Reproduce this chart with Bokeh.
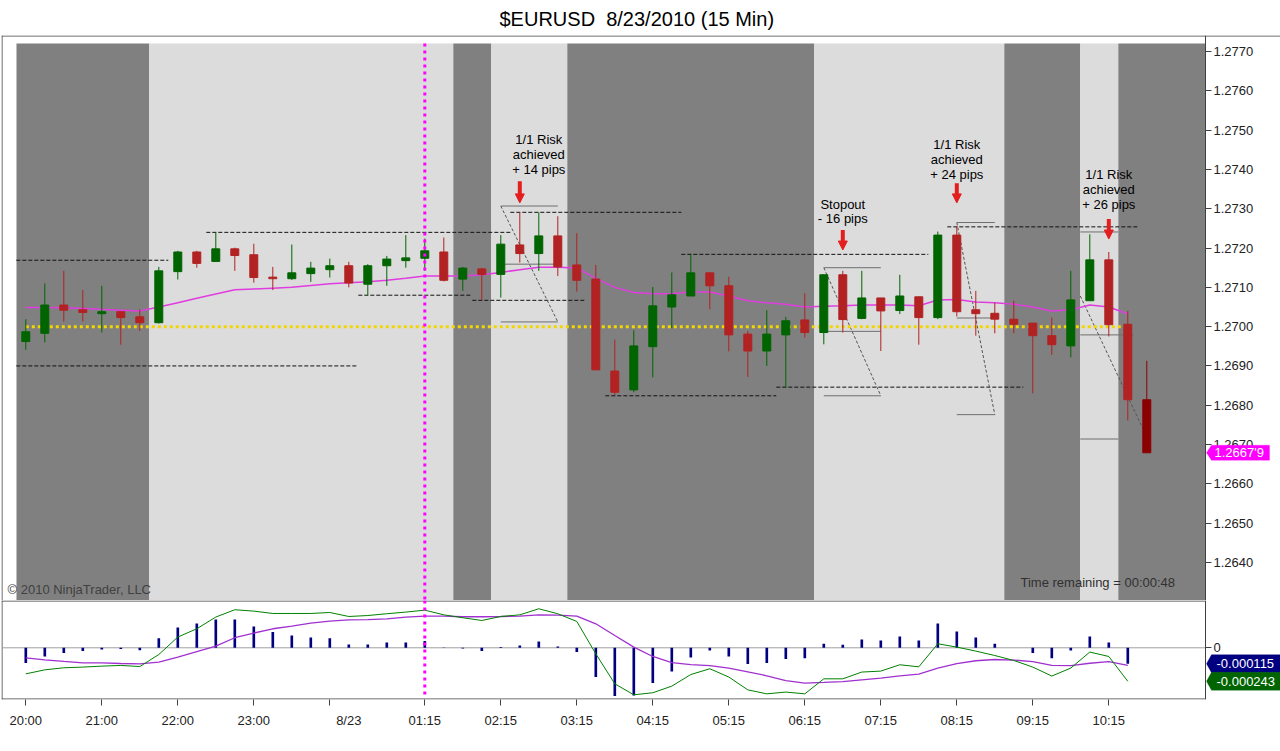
from bokeh.plotting import figure
from bokeh.layouts import column
from bokeh.models import (FixedTicker, PrintfTickFormatter, Label, Arrow,
                          NormalHead, PolyAnnotation)
from bokeh.embed import file_html
from bokeh.resources import INLINE
from bokeh.core.properties import value

FONT = "Liberation Sans"

# ---------------- data ----------------
tick_index = [0, 4, 8, 12, 16, 21, 25, 29, 33, 37, 41, 45, 49, 53, 57]
label_index = [0, 4, 8, 12, 17, 21, 25, 29, 33, 37, 41, 45, 49, 53, 57]
tick_labels = ["20:00", "21:00", "22:00", "23:00", "8/23", "01:15", "02:15", "03:15",
               "04:15", "05:15", "06:15", "07:15", "08:15", "09:15", "10:15"]

opens = [1.26962, 1.26983, 1.27055, 1.27043, 1.27033, 1.27038, 1.27025, 1.27010, 1.27140, 1.27190,
         1.27166, 1.27198, 1.27183, 1.27126, 1.27122, 1.27135, 1.27145, 1.27155, 1.27108, 1.27155,
         1.27168, 1.27174, 1.27190, 1.27121, 1.27147, 1.27133, 1.27208, 1.27186, 1.27231, 1.27157,
         1.27121, 1.26887, 1.26839, 1.26949, 1.27050, 1.27078, 1.27137, 1.27104, 1.26981, 1.26938,
         1.26979, 1.27017, 1.26985, 1.27132, 1.27021, 1.27073, 1.27041, 1.27076, 1.27023, 1.27233,
         1.27043, 1.27034, 1.27019, 1.27009, 1.26977, 1.26951, 1.27066, 1.27170, 1.27006, 1.26814]
highs = [1.27019, 1.27110, 1.27142, 1.27093, 1.27104, 1.27038, 1.27044, 1.27152, 1.27193, 1.27193,
         1.27240, 1.27201, 1.27211, 1.27152, 1.27209, 1.27165, 1.27173, 1.27165, 1.27159, 1.27180,
         1.27233, 1.27224, 1.27227, 1.27152, 1.27149, 1.27233, 1.27291, 1.27291, 1.27281, 1.27238,
         1.27157, 1.26967, 1.26991, 1.27101, 1.27138, 1.27186, 1.27137, 1.27127, 1.26989, 1.27042,
         1.27025, 1.27085, 1.27133, 1.27142, 1.27142, 1.27073, 1.27132, 1.27076, 1.27242, 1.27256,
         1.27091, 1.27061, 1.27066, 1.27009, 1.27023, 1.27142, 1.27235, 1.27190, 1.27040, 1.26913]
lows = [1.26941, 1.26960, 1.27013, 1.27013, 1.26985, 1.26954, 1.26989, 1.27008, 1.27120, 1.27150,
        1.27166, 1.27142, 1.27112, 1.27093, 1.27119, 1.27114, 1.27125, 1.27100, 1.27080, 1.27104,
        1.27150, 1.27142, 1.27115, 1.27091, 1.27067, 1.27074, 1.27163, 1.27142, 1.27129, 1.27089,
        1.26890, 1.26826, 1.26833, 1.26871, 1.26996, 1.27078, 1.27044, 1.26937, 1.26872, 1.26900,
        1.26845, 1.26972, 1.26955, 1.26985, 1.27019, 1.26938, 1.27032, 1.26954, 1.27019, 1.27026,
        1.26977, 1.26983, 1.26983, 1.26830, 1.26928, 1.26922, 1.27066, 1.26975, 1.26761, 1.26679]
closes = [1.26987, 1.27055, 1.27042, 1.27036, 1.27038, 1.27023, 1.27010, 1.27142, 1.27190, 1.27161,
          1.27198, 1.27181, 1.27125, 1.27122, 1.27137, 1.27149, 1.27155, 1.27111, 1.27155, 1.27172,
          1.27175, 1.27193, 1.27118, 1.27149, 1.27133, 1.27210, 1.27186, 1.27231, 1.27152, 1.27118,
          1.26890, 1.26833, 1.26951, 1.27053, 1.27081, 1.27137, 1.27104, 1.26979, 1.26938, 1.26981,
          1.27015, 1.26985, 1.27132, 1.27018, 1.27073, 1.27040, 1.27078, 1.27023, 1.27233, 1.27038,
          1.27033, 1.27019, 1.27006, 1.26977, 1.26954, 1.27068, 1.27170, 1.27005, 1.26814, 1.26679]

moving_avg = [1.27049, 1.27049, 1.27048, 1.27046, 1.27044, 1.27042, 1.27040, 1.27050, 1.27061, 1.27072,
              1.27083, 1.27094, 1.27096, 1.27098, 1.27100, 1.27105, 1.27109, 1.27112, 1.27114, 1.27118,
              1.27123, 1.27129, 1.27129, 1.27129, 1.27132, 1.27138, 1.27145, 1.27151, 1.27151, 1.27149,
              1.27123, 1.27100, 1.27087, 1.27084, 1.27084, 1.27088, 1.27088, 1.27078, 1.27066, 1.27061,
              1.27057, 1.27050, 1.27052, 1.27053, 1.27055, 1.27055, 1.27055, 1.27053, 1.27068, 1.27069,
              1.27063, 1.27061, 1.27057, 1.27050, 1.27040, 1.27043, 1.27055, 1.27050, 1.27032]

last_price_text = "1.2667'9"
pivot_level = 1.2700
pivot_bars = [0, 58]

session_edges = [-0.49, 6.5, 22.5, 24.5, 28.5, 41.5, 51.5, 55.5, 57.5, 62.09]
session_dark = [True, False, True, False, True, False, True, False, True]

level_price = [1.27169, 1.26900, 1.27240, 1.27080, 1.27291, 1.27067, 1.27184, 1.26824, 1.26846, 1.27254]
level_start = [-0.5, -0.5, 9.5, 17.5, 25.5, 23.5, 34.5, 30.5, 39.5, 48.5]
level_end = [7.5, 17.5, 25.5, 23.5, 34.5, 29.5, 47.5, 39.5, 52.5, 58.5]

rr_start = [25.0, 42.0, 49.0, 55.5]
rr_end = [28.0, 45.0, 51.0, 57.5]
rr_mid_end = [28.2, 45.0, 51.0, 58.3]
rr_top = [1.27307, 1.27150, 1.27265, 1.27241]
rr_mid = [1.27159, 1.26988, 1.27022, 1.26979]
rr_bot = [1.27012, 1.26824, 1.26776, 1.26714]
rr_diag_x0 = [25.0, 42.0, 49.0, 55.5]
rr_diag_y0 = [1.27307, 1.27150, 1.27265, 1.27078]
rr_diag_x1 = [28.0, 45.0, 51.0, 59.0]
rr_diag_y1 = [1.27012, 1.26824, 1.26776, 1.26719]

note_x = [27, 27, 27, 43, 43, 49, 49, 49, 57, 57, 57]
note_y = [1.27477, 1.27439, 1.27401, 1.27310, 1.27274, 1.27464, 1.27426, 1.27388,
          1.27388, 1.27350, 1.27312]
note_text = ["1/1 Risk", "achieved", "+ 14 pips", "Stopout", "- 16 pips",
             "1/1 Risk", "achieved", "+ 24 pips", "1/1 Risk", "achieved", "+ 26 pips"]

arrow_x = [26, 43, 49, 57]
arrow_top = [1.27370, 1.27246, 1.27365, 1.27274]
arrow_tip = [1.27315, 1.27195, 1.27315, 1.27223]

marker_bar = 21

price_ticks = [1.2640, 1.2650, 1.2660, 1.2670, 1.2680, 1.2690, 1.2700,
               1.2710, 1.2720, 1.2730, 1.2740, 1.2750, 1.2760, 1.2770]

macd = [-189e-6, -160e-6, -145e-6, -140e-6, -133e-6, -128e-6, -136e-6, -49e-6, 78e-6, 138e-6,
        223e-6, 276e-6, 266e-6, 249e-6, 249e-6, 249e-6, 256e-6, 227e-6, 234e-6, 247e-6,
        259e-6, 273e-6, 239e-6, 218e-6, 198e-6, 227e-6, 239e-6, 283e-6, 247e-6, 191e-6,
        -44e-6, -261e-6, -341e-6, -326e-6, -278e-6, -194e-6, -152e-6, -212e-6, -305e-6, -334e-6,
        -321e-6, -334e-6, -225e-6, -225e-6, -176e-6, -169e-6, -123e-6, -138e-6, 29e-6, 5e-6,
        -24e-6, -56e-6, -92e-6, -140e-6, -205e-6, -147e-6, -31e-6, -63e-6, -243e-6]
macd_avg = [-73e-6, -87e-6, -99e-6, -109e-6, -109e-6, -114e-6, -116e-6, -104e-6, -67e-6, -27e-6,
            12e-6, 73e-6, 107e-6, 138e-6, 157e-6, 179e-6, 194e-6, 203e-6, 205e-6, 210e-6,
            223e-6, 230e-6, 230e-6, 225e-6, 225e-6, 227e-6, 230e-6, 239e-6, 237e-6, 230e-6,
            174e-6, 89e-6, 5e-6, -63e-6, -107e-6, -122e-6, -130e-6, -147e-6, -174e-6, -203e-6,
            -238e-6, -256e-6, -251e-6, -245e-6, -232e-6, -220e-6, -203e-6, -191e-6, -147e-6, -115e-6,
            -94e-6, -85e-6, -89e-6, -100e-6, -127e-6, -130e-6, -112e-6, -100e-6, -128e-6]
macd_diff = [-111e-6, -63e-6, -38e-6, -24e-6, -12e-6, -9e-6, -17e-6, 70e-6, 147e-6, 176e-6,
             205e-6, 205e-6, 154e-6, 114e-6, 89e-6, 75e-6, 70e-6, 24e-6, 24e-6, 38e-6,
             38e-6, 49e-6, 2e-6, -5e-6, -24e-6, 5e-6, 17e-6, 46e-6, 9e-6, -31e-6,
             -212e-6, -350e-6, -346e-6, -256e-6, -172e-6, -70e-6, -20e-6, -63e-6, -118e-6, -111e-6,
             -82e-6, -75e-6, 29e-6, 22e-6, 60e-6, 53e-6, 82e-6, 53e-6, 176e-6, 118e-6,
             75e-6, 29e-6, 0.0, -38e-6, -75e-6, -20e-6, 82e-6, 38e-6, -115e-6]

# ---------------- layout constants (page pixels) ----------------
W = 1280
FL, FR = 1, 1205          # frame left / price-scale line
PT, PB = 34, 600
MT, MB = 600, 699
PXU = 19.0                # pixels per bar
X0 = -1.279
X1 = X0 + (W - FL) / PXU  # frame spans the whole width; price scale pinned at FR
Y0, Y1 = 1.26303, 1.27741
M0, M1 = -375e-6, 343e-6
UP, DOWN, LAST = "#006400", "#b22222", "#8b0000"
DARK, LIGHT = "#808080", "#dcdcdc"
ARROW = "#e41e1e"
EDGE = "#404040"

ppu = (Y1 - Y0) / (PB - PT)
mpu = (M1 - M0) / (MB - MT)


def xdata(px):
    return X0 + (px - FL) / PXU


def yp(py):
    return Y1 - (py - PT) * ppu


XR = xdata(FR)
n = len(opens)
idx = list(range(n))
colors = [UP if c > o else DOWN for o, c in zip(opens, closes)]
colors[-1] = LAST


def style_axis(ax):
    ax.major_label_text_font = FONT
    ax.major_label_text_font_size = "13px"
    ax.major_label_text_color = "#222222"
    ax.axis_line_color = EDGE
    ax.major_tick_line_color = EDGE


def tag(fig, val, upp, text, color, half, box_right, text_x):
    fig.add_layout(PolyAnnotation(
        xs=[xdata(1206), xdata(1211), xdata(box_right), xdata(box_right), xdata(1211)],
        ys=[val, val + half * upp, val + half * upp, val - half * upp, val - half * upp],
        fill_color=color, fill_alpha=1.0, line_color=color, line_width=1))
    fig.add_layout(Label(x=xdata(text_x), y=val, text=text, text_align="left",
                         text_baseline="middle", text_font=FONT, text_font_size="13px",
                         text_color="#ffffff"))


# ---------------- price panel ----------------
p = figure(width=W, height=PB, x_range=(X0, X1), y_range=(Y0, Y1),
           output_backend="svg", toolbar_location=None, x_axis_location=None,
           y_axis_location="right", min_border_left=FL, min_border_right=0,
           min_border_top=PT, min_border_bottom=0, outline_line_color=None,
           background_fill_color="white", border_fill_color="white",
           title="$EURUSD\u00a0 8/23/2010 (15 Min)")
p.grid.visible = False
p.title.align = "left"
p.title.offset = 498
p.title.text_font = FONT
p.title.text_font_size = "20px"
p.title.text_font_style = "normal"
p.title.text_color = "#000000"
p.title.standoff = 11

band_top = yp(42)
for k, dark in enumerate(session_dark):
    p.quad(left=session_edges[k], right=session_edges[k + 1], top=band_top, bottom=Y0 - 0.001,
           fill_color=DARK if dark else LIGHT, line_color=None)

# frame borders: top across the full width, left edge
p.segment(x0=[X0], y0=[Y1 - 0.5 * ppu], x1=[X1], y1=[Y1 - 0.5 * ppu], line_color=EDGE,
          line_width=1)
p.segment(x0=[X0 + 0.5 / PXU], y0=[Y0], x1=[X0 + 0.5 / PXU], y1=[Y1], line_color=EDGE,
          line_width=1)

p.segment(x0=level_start, y0=level_price, x1=level_end, y1=level_price,
          line_color="#111111", line_width=1, line_dash="4 2")

p.segment(x0=rr_start, y0=rr_top, x1=rr_end, y1=rr_top, line_color="#6e6e6e", line_width=1)
p.segment(x0=rr_start, y0=rr_mid, x1=rr_mid_end, y1=rr_mid, line_color="#6e6e6e", line_width=1)
p.segment(x0=rr_start, y0=rr_bot, x1=rr_end, y1=rr_bot, line_color="#6e6e6e", line_width=1)
p.segment(x0=rr_diag_x0, y0=rr_diag_y0, x1=rr_diag_x1, y1=rr_diag_y1,
          line_color="#555555", line_width=1, line_dash="3 2")

p.line(x=pivot_bars, y=[pivot_level, pivot_level], line_color="#f2d600", line_width=3,
       line_dash="3 3")
p.line(x=idx[:len(moving_avg)], y=moving_avg, line_color="#e03ce0", line_width=1.5)

p.segment(x0=idx, y0=lows, x1=idx, y1=highs, line_color=colors, line_width=1)
p.vbar(x=idx, width=0.42, top=[max(o, c) for o, c in zip(opens, closes)],
       bottom=[min(o, c) for o, c in zip(opens, closes)],
       fill_color=colors, line_color=colors, line_width=1)

p.segment(x0=[marker_bar], y0=[band_top], x1=[marker_bar], y1=[Y0], line_color="#ff00ff",
          line_width=3, line_dash="3 4")

p.text(x=note_x, y=note_y, text=note_text, text_align="center", text_baseline="middle",
       text_font=value(FONT), text_font_size="13px", text_color="#000000")
for ax_, at, tip in zip(arrow_x, arrow_top, arrow_tip):
    p.add_layout(Arrow(x_start=ax_, y_start=at, x_end=ax_, y_end=tip, line_color=ARROW,
                       line_width=4,
                       end=NormalHead(size=9, fill_color=ARROW, line_color=ARROW)))

pax = p.yaxis[0]
pax.fixed_location = XR
pax.ticker = FixedTicker(ticks=price_ticks, minor_ticks=[])
pax.formatter = PrintfTickFormatter(format="%.4f")
style_axis(pax)
pax.major_tick_out = 6
pax.major_tick_in = 0
pax.minor_tick_out = 0
pax.minor_tick_in = 0
pax.major_label_standoff = 2

tag(p, closes[-1], ppu, last_price_text, "#ff00ff", 7.5, 1269, 1214)

p.add_layout(Label(x=xdata(7), y=yp(589), text="\u00a9 2010 NinjaTrader, LLC",
                   text_align="left", text_baseline="middle", text_font=FONT,
                   text_font_size="13px", text_color="#404040"))
p.add_layout(Label(x=xdata(1020), y=yp(582), text="Time remaining = 00:00:48",
                   text_align="left", text_baseline="middle", text_font=FONT,
                   text_font_size="13px", text_color="#303030"))

# ---------------- MACD panel ----------------
q = figure(width=W, height=150, x_range=p.x_range, y_range=(M0, M1),
           output_backend="svg", toolbar_location=None, y_axis_location="right",
           min_border_left=FL, min_border_right=0, min_border_top=0,
           min_border_bottom=150 - (MB - MT),
           outline_line_color=None, background_fill_color="white",
           border_fill_color="white")
q.grid.visible = False
# panel box (ends at the price-scale line) and zero line
q.segment(x0=[X0, X0, X0 + 0.5 / PXU], y0=[M1 - 0.5 * mpu, M0 + 0.5 * mpu, M0],
          x1=[XR, XR, X0 + 0.5 / PXU], y1=[M1 - 0.5 * mpu, M0 + 0.5 * mpu, M1],
          line_color=EDGE, line_width=1)
q.segment(x0=[X0], y0=[0], x1=[XR], y1=[0], line_color="#a0a0a0", line_width=1)

m = len(macd)
q.vbar(x=idx[:m], width=0.14, top=macd_diff, bottom=0, fill_color="#000080",
       line_color=None)
q.line(x=idx[:m], y=macd_avg, line_color="#a030d0", line_width=1.3)
q.line(x=idx[:m], y=macd, line_color="#008000", line_width=1)
q.segment(x0=[marker_bar], y0=[M1], x1=[marker_bar], y1=[M0 + 3 * mpu], line_color="#ff00ff",
          line_width=3, line_dash="3 4")

xax = q.xaxis[0]
xax.ticker = FixedTicker(ticks=label_index, minor_ticks=tick_index)
xax.major_label_overrides = {i: t for i, t in zip(label_index, tick_labels)}
style_axis(xax)
xax.axis_line_color = None
xax.major_tick_out = 0
xax.major_tick_in = 0
xax.minor_tick_out = 6
xax.minor_tick_in = 0
xax.minor_tick_line_color = EDGE
xax.major_label_standoff = 7

zax = q.yaxis[0]
zax.fixed_location = XR
zax.ticker = FixedTicker(ticks=[0], minor_ticks=[])
zax.major_label_overrides = {0: "0"}
style_axis(zax)
zax.major_tick_out = 6
zax.major_tick_in = 0
zax.minor_tick_out = 0
zax.minor_tick_in = 0
zax.major_label_standoff = 2

tag(q, macd_diff[-1], mpu, "-0.000115", "#000080", 9, W, 1216)
tag(q, macd[-1], mpu, "-0.000243", "#006400", 9, W, 1216)

layout = column(p, q, spacing=0)
open("out.html", "w").write(file_html(layout, INLINE))
